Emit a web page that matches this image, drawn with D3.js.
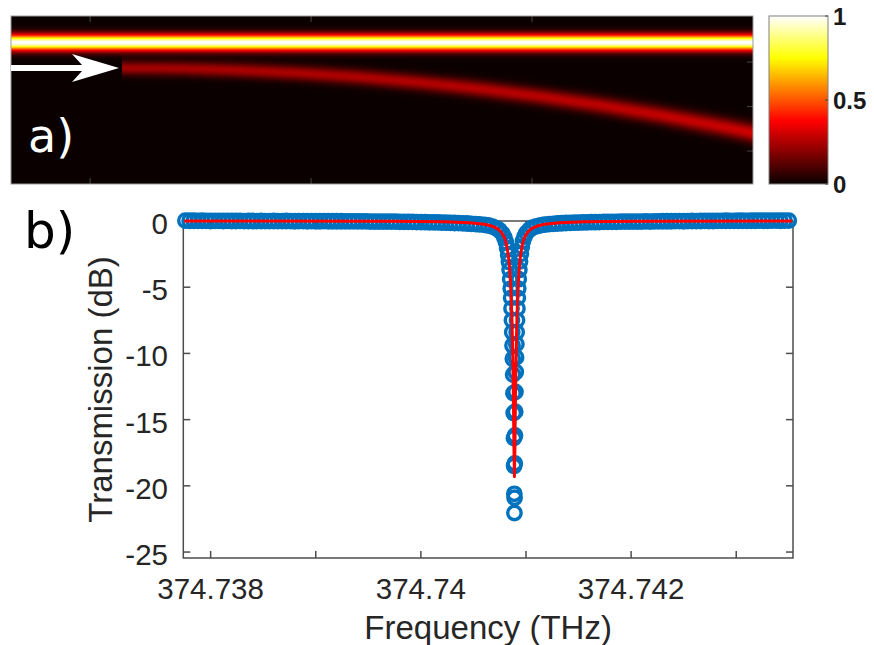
<!DOCTYPE html>
<html>
<head>
<meta charset="utf-8">
<script src="https://cdn.jsdelivr.net/npm/d3@7"></script>
<style>
  html, body { margin: 0; padding: 0; background: #fff; }
  svg { display: block; }
</style>
</head>
<body>
<svg id="fig" width="874" height="645"></svg>
<script>
// ---------- Panel a: simulated field intensity (normalised) ----------
const mapXDomainUm = [32.1, 200];
const mapYDomainUm = [-0.17, 18.7];
const mapXTicksUm = [50, 100, 150];
const mapYTicksUm = [5, 10, 15];

// straight bus waveguide mode
const busCenterUm = 2.81;
const busWidthUm = 0.62;
const busPeak = 1.0;

// out-coupled beam: centre path, peak intensity and width along x
const outX = [57.22, 70.34, 83.92, 97.50, 111.07, 124.65, 138.23, 151.80, 165.38, 178.96, 192.53, 200.0];
const outY = [5.67, 5.73, 5.93, 6.25, 6.70, 7.30, 8.02, 8.87, 9.85, 10.97, 12.22, 12.97];
const outPeak = [0.23, 0.235, 0.24, 0.245, 0.25, 0.255, 0.26, 0.265, 0.27, 0.28, 0.29, 0.30];
const outWidth = [0.55, 0.56, 0.58, 0.59, 0.61, 0.62, 0.64, 0.65, 0.67, 0.69, 0.72, 0.73];

// "hot" colour map
const hotStops = [0, 0.375, 0.75, 1];
const hotColors = ["#0a0000", "#ff0000", "#ffff00", "#ffffff"];
const colorbarTicks = [0, 0.5, 1];
const colorbarLabels = ["0", "0.5", "1"];

// ---------- Panel b: transmission spectrum ----------
const xTickValues = [374.738, 374.739, 374.740, 374.741, 374.742, 374.743];
const xTickLabels = ["374.738", "", "374.74", "", "374.742", ""];
const yTickValues = [0, -5, -10, -15, -20, -25];
const yTickLabels = ["0", "-5", "-10", "-15", "-20", "-25"];

// measured scan (THz, dB)
const scanFreqTHz = [
  374.73776, 374.73780, 374.73784, 374.73788, 374.73792, 374.73796, 374.73800, 374.73804, 374.73808, 374.73812,
  374.73816, 374.73820, 374.73824, 374.73828, 374.73832, 374.73836, 374.73840, 374.73844, 374.73848, 374.73852,
  374.73856, 374.73860, 374.73864, 374.73868, 374.73872, 374.73876, 374.73880, 374.73884, 374.73888, 374.73892,
  374.73896, 374.73900, 374.73904, 374.73908, 374.73912, 374.73916, 374.73920, 374.73924, 374.73928, 374.73932,
  374.73936, 374.73940, 374.73944, 374.73948, 374.73952, 374.73956, 374.73960, 374.73964, 374.73968, 374.73972,
  374.73976, 374.73980, 374.73984, 374.73988, 374.73992, 374.73996, 374.74000, 374.74004, 374.74008, 374.74012,
  374.74016, 374.74020, 374.74024, 374.74028, 374.74032, 374.74036, 374.74040, 374.74044, 374.74048, 374.74052,
  374.74056,
  374.7406047, 374.7406427, 374.7406808, 374.7407188, 374.7407473, 374.7407759, 374.7407949, 374.7408092,
  374.7408206, 374.7408301, 374.7408377, 374.7408444, 374.7408501, 374.7408548, 374.7408586, 374.7408624,
  374.7408662, 374.7408691, 374.7408719, 374.7408748, 374.7408776, 374.7408805, 374.7408829, 374.7408852,
  374.7408871, 374.7408890,
  374.7408900,
  374.7408914, 374.7408933, 374.7408952, 374.7408976, 374.7409000, 374.7409028, 374.7409057, 374.7409085,
  374.7409114, 374.7409147, 374.7409185, 374.7409223, 374.7409261, 374.7409309, 374.7409366, 374.7409433,
  374.7409509, 374.7409604, 374.7409718, 374.7409851, 374.7410041, 374.7410327, 374.7410612, 374.7410992,
  374.7411373, 374.7411753,
  374.74122, 374.74126, 374.74130, 374.74134, 374.74138, 374.74142, 374.74146, 374.74150, 374.74154, 374.74158,
  374.74162, 374.74166, 374.74170, 374.74174, 374.74178, 374.74182, 374.74186, 374.74190, 374.74194, 374.74198,
  374.74202, 374.74206, 374.74210, 374.74214, 374.74218, 374.74222, 374.74226, 374.74230, 374.74234, 374.74238,
  374.74242, 374.74246, 374.74250, 374.74254, 374.74258, 374.74262, 374.74266, 374.74270, 374.74274, 374.74278,
  374.74282, 374.74286, 374.74290, 374.74294, 374.74298, 374.74302, 374.74306, 374.74310, 374.74314, 374.74318,
  374.74322, 374.74326, 374.74330, 374.74334, 374.74338, 374.74342, 374.74346, 374.74350
];
const scanTransmissionDb = [
  0.03, 0.02, 0.02, 0.01, 0.02, 0.01, 0.00, 0.01, 0.01, 0.00,
  0.01, 0.00, 0.00, 0.01, -0.01, 0.00, 0.00, -0.01, 0.00, -0.01,
  -0.01, 0.00, -0.01, -0.01, 0.00, -0.01, -0.02, -0.01, -0.01, -0.02,
  -0.01, -0.02, -0.02, -0.01, -0.02, -0.02, -0.02, -0.02, -0.03, -0.03,
  -0.03, -0.03, -0.03, -0.03, -0.04, -0.04, -0.04, -0.04, -0.05, -0.05,
  -0.05, -0.06, -0.06, -0.07, -0.07, -0.08, -0.08, -0.09, -0.10, -0.10,
  -0.11, -0.12, -0.13, -0.14, -0.15, -0.16, -0.18, -0.19, -0.21, -0.23,
  -0.26,
  -0.29, -0.34, -0.42, -0.55, -0.70, -0.95, -1.25, -1.60,
  -2.05, -2.55, -3.10, -3.70, -4.40, -5.10, -5.80, -6.60,
  -7.50, -8.40, -9.40, -10.40, -11.60, -13.00, -14.50, -16.40,
  -18.50, -20.60,
  -22.05,
  -20.90, -18.30, -16.20, -14.40, -12.90, -11.40, -10.30, -9.30,
  -8.40, -7.50, -6.60, -5.80, -5.10, -4.40, -3.70, -3.05,
  -2.50, -1.95, -1.50, -1.18, -0.90, -0.66, -0.50, -0.40,
  -0.33, -0.28,
  -0.24, -0.21, -0.19, -0.17, -0.15, -0.14, -0.13, -0.12, -0.11, -0.10,
  -0.09, -0.09, -0.08, -0.07, -0.07, -0.06, -0.06, -0.05, -0.05, -0.05,
  -0.04, -0.04, -0.04, -0.03, -0.04, -0.03, -0.03, -0.02, -0.02, -0.02,
  -0.01, -0.01, -0.02, -0.01, 0.00, -0.01, 0.00, 0.01, 0.00, 0.00,
  0.01, 0.01, 0.02, 0.01, 0.01, 0.02, 0.02, 0.01, 0.02, 0.02,
  0.03, 0.02, 0.02, 0.03, 0.03, 0.02, 0.03, 0.03
];

// Lorentzian fit (THz, dB)
const fitFreqTHz = [
  374.73775, 374.7397488, 374.7402243, 374.7404620, 374.7406047, 374.7406808, 374.7407283, 374.7407664,
  374.7407949, 374.7408139, 374.7408329, 374.7408424, 374.7408520, 374.7408615, 374.7408662, 374.7408710,
  374.7408757, 374.7408805, 374.7408852, 374.7408900,
  374.7408948, 374.7408995, 374.7409043, 374.7409090, 374.7409138, 374.7409185, 374.7409280, 374.7409376,
  374.7409471, 374.7409661, 374.7409851, 374.7410136, 374.7410517, 374.7410992, 374.7411753, 374.7413180,
  374.7415557, 374.7420312, 374.74353
];
const fitTransmissionDb = [
  -0.003, -0.02, -0.06, -0.13, -0.25, -0.40, -0.58, -0.86,
  -1.25, -1.75, -2.65, -3.40, -4.51, -6.23, -7.43, -8.96,
  -10.96, -13.64, -17.03, -19.32,
  -17.03, -13.64, -10.96, -8.96, -7.43, -6.23, -4.51, -3.40,
  -2.65, -1.75, -1.25, -0.86, -0.58, -0.40, -0.25, -0.13,
  -0.06, -0.02, -0.003
];

// ================= drawing =================
const svg = d3.select("#fig");
svg.append("rect").attr("width", 874).attr("height", 645).attr("fill", "#fff");

const tickFont = "'Liberation Sans', Arial, sans-serif";
const panelFont = "'DejaVu Sans', sans-serif";

// ---------- Panel a ----------
const mapBox = { x0: 11, x1: 753, y0: 16, y1: 184 };
const mx = d3.scaleLinear().domain(mapXDomainUm).range([mapBox.x0, mapBox.x1]);
const my = d3.scaleLinear().domain(mapYDomainUm).range([mapBox.y0, mapBox.y1]);
const hot = d3.scaleLinear().domain(hotStops).range(hotColors).clamp(true);

const outCenter = d3.scaleLinear().domain(outX).range(outY).clamp(true);
const outAmp = d3.scaleLinear().domain(outX).range(outPeak).clamp(true);
const outSigma = d3.scaleLinear().domain(outX).range(outWidth).clamp(true);

// colour look-up table
const lut = d3.range(256).map(i => d3.rgb(hot(i / 255)));

const W = mapBox.x1 - mapBox.x0, H = mapBox.y1 - mapBox.y0;
const canvas = document.createElement("canvas");
canvas.width = W; canvas.height = H;
const ctx = canvas.getContext("2d");
const img = ctx.createImageData(W, H);
for (let i = 0; i < W; i++) {
  const xu = mx.invert(mapBox.x0 + i + 0.5);
  const on = xu >= outX[0];
  const c = on ? outCenter(xu) : 0;
  const a = on ? outAmp(xu) : 0;
  const s = on ? outSigma(xu) : 1;
  for (let j = 0; j < H; j++) {
    const yu = my.invert(mapBox.y0 + j + 0.5);
    const db = (yu - busCenterUm) / busWidthUm;
    let v = busPeak * Math.exp(-0.5 * db * db);
    if (on) { const d = (yu - c) / s; v += a * Math.exp(-0.5 * d * d); }
    const col = lut[Math.round(Math.min(1, v) * 255)];
    const k = (j * W + i) * 4;
    img.data[k] = col.r; img.data[k + 1] = col.g; img.data[k + 2] = col.b; img.data[k + 3] = 255;
  }
}
ctx.putImageData(img, 0, 0);
svg.append("image")
  .attr("href", canvas.toDataURL())
  .attr("x", mapBox.x0).attr("y", mapBox.y0)
  .attr("width", W).attr("height", H)
  .attr("preserveAspectRatio", "none");

// inward ticks of the map
const mapTicks = svg.append("g").attr("stroke", "#3c3c3c").attr("stroke-width", 1.2);
mapXTicksUm.forEach(t => {
  mapTicks.append("line").attr("x1", mx(t)).attr("x2", mx(t)).attr("y1", mapBox.y0).attr("y2", mapBox.y0 + 6);
  mapTicks.append("line").attr("x1", mx(t)).attr("x2", mx(t)).attr("y1", mapBox.y1).attr("y2", mapBox.y1 - 6);
});
mapYTicksUm.forEach(t => {
  mapTicks.append("line").attr("x1", mapBox.x1).attr("x2", mapBox.x1 - 6).attr("y1", my(t)).attr("y2", my(t));
});
svg.append("rect")
  .attr("x", mapBox.x0).attr("y", mapBox.y0).attr("width", W).attr("height", H)
  .attr("fill", "none").attr("stroke", "#9a9a9a").attr("stroke-width", 1);

// input arrow pointing at the launch of the out-coupled beam
{
  const tipX = mx(outX[0]) - 3, cy = my(outY[0]);
  const headLen = 47, halfW = 14, notch = 10, shaftHalf = 3;
  const p = d3.path();
  p.moveTo(mapBox.x0, cy - shaftHalf);
  p.lineTo(tipX - headLen + notch, cy - shaftHalf);
  p.lineTo(tipX - headLen, cy - halfW);
  p.lineTo(tipX, cy);
  p.lineTo(tipX - headLen, cy + halfW);
  p.lineTo(tipX - headLen + notch, cy + shaftHalf);
  p.lineTo(mapBox.x0, cy + shaftHalf);
  p.closePath();
  svg.append("path").attr("d", p.toString()).attr("fill", "#ffffff");
}

svg.append("text").attr("x", 28).attr("y", 152)
  .attr("font-family", panelFont).attr("font-size", 46).attr("fill", "#fff").text("a)");

// colour bar
const cb = { x: 769, y0: 16, y1: 184, w: 59 };
const cbScale = d3.scaleLinear().domain([0, 1]).range([cb.y1, cb.y0]);
const grad = svg.append("defs").append("linearGradient")
  .attr("id", "hotGrad").attr("x1", 0).attr("y1", 1).attr("x2", 0).attr("y2", 0);
hotStops.forEach(t => grad.append("stop").attr("offset", t).attr("stop-color", hot(t)));
svg.append("rect")
  .attr("x", cb.x).attr("y", cb.y0).attr("width", cb.w).attr("height", cb.y1 - cb.y0)
  .attr("fill", "url(#hotGrad)").attr("stroke", "#808080").attr("stroke-width", 1);
colorbarTicks.forEach((t, i) => {
  svg.append("line").attr("x1", cb.x + cb.w).attr("x2", cb.x + cb.w - 3)
    .attr("y1", cbScale(t)).attr("y2", cbScale(t)).attr("stroke", "#444").attr("stroke-width", 1);
  svg.append("text").attr("x", cb.x + cb.w + 5).attr("y", cbScale(t)).attr("dy", "0.36em")
    .attr("font-family", tickFont).attr("font-weight", "bold").attr("font-size", 24)
    .attr("fill", "#1a1a1a").text(colorbarLabels[i]);
});

// ---------- Panel b ----------
const plot = { x0: 183.3, x1: 793, y0: 221, y1: 558 };
const x = d3.scaleLinear().domain([374.73774, 374.74354]).range([plot.x0, plot.x1]);
const y = d3.scaleLinear().domain([-25.45, 0]).range([plot.y1, plot.y0]);
const axisColor = "#4d4d4d";
const textColor = "#262626";
const tickLen = 7;

const axes = svg.append("g").attr("stroke", axisColor).attr("stroke-width", 1.5).attr("fill", "none");
axes.append("rect").attr("x", plot.x0).attr("y", plot.y0)
  .attr("width", plot.x1 - plot.x0).attr("height", plot.y1 - plot.y0);
xTickValues.forEach(t => {
  axes.append("line").attr("x1", x(t)).attr("x2", x(t)).attr("y1", plot.y1).attr("y2", plot.y1 - tickLen);
  axes.append("line").attr("x1", x(t)).attr("x2", x(t)).attr("y1", plot.y0).attr("y2", plot.y0 + tickLen);
});
yTickValues.forEach(t => {
  axes.append("line").attr("x1", plot.x0).attr("x2", plot.x0 + tickLen).attr("y1", y(t)).attr("y2", y(t));
  axes.append("line").attr("x1", plot.x1).attr("x2", plot.x1 - tickLen).attr("y1", y(t)).attr("y2", y(t));
});

const labels = svg.append("g").attr("font-family", tickFont).attr("fill", textColor);
xTickValues.forEach((t, i) => {
  if (!xTickLabels[i]) return;
  labels.append("text").attr("x", x(t)).attr("y", 599).attr("text-anchor", "middle")
    .attr("font-size", 29.5).text(xTickLabels[i]);
});
yTickValues.forEach((t, i) => {
  labels.append("text").attr("x", 168).attr("y", y(t)).attr("dy", "0.44em").attr("text-anchor", "end")
    .attr("font-size", 29.5).text(yTickLabels[i]);
});
labels.append("text").attr("x", (plot.x0 + plot.x1) / 2).attr("y", 639).attr("text-anchor", "middle")
  .attr("font-size", 33).text("Frequency (THz)");
labels.append("text").attr("transform", `translate(112,${(plot.y0 + plot.y1) / 2}) rotate(-90)`)
  .attr("text-anchor", "middle").attr("font-size", 33).text("Transmission (dB)");

// measured points
svg.append("g").selectAll("circle")
  .data(d3.zip(scanFreqTHz, scanTransmissionDb))
  .join("circle")
  .attr("cx", d => x(d[0])).attr("cy", d => y(d[1])).attr("r", 6.7)
  .attr("fill", "none").attr("stroke", "#0072BD").attr("stroke-width", 3.4);

// fit
svg.append("path")
  .datum(d3.zip(fitFreqTHz, fitTransmissionDb))
  .attr("d", d3.line().x(d => x(d[0])).y(d => y(d[1])))
  .attr("fill", "none").attr("stroke", "#ff0000").attr("stroke-width", 3)
  .attr("stroke-linejoin", "round");

svg.append("text").attr("x", 24).attr("y", 248)
  .attr("font-family", panelFont).attr("font-size", 50).attr("fill", "#000").text("b)");
</script>
</body>
</html>
